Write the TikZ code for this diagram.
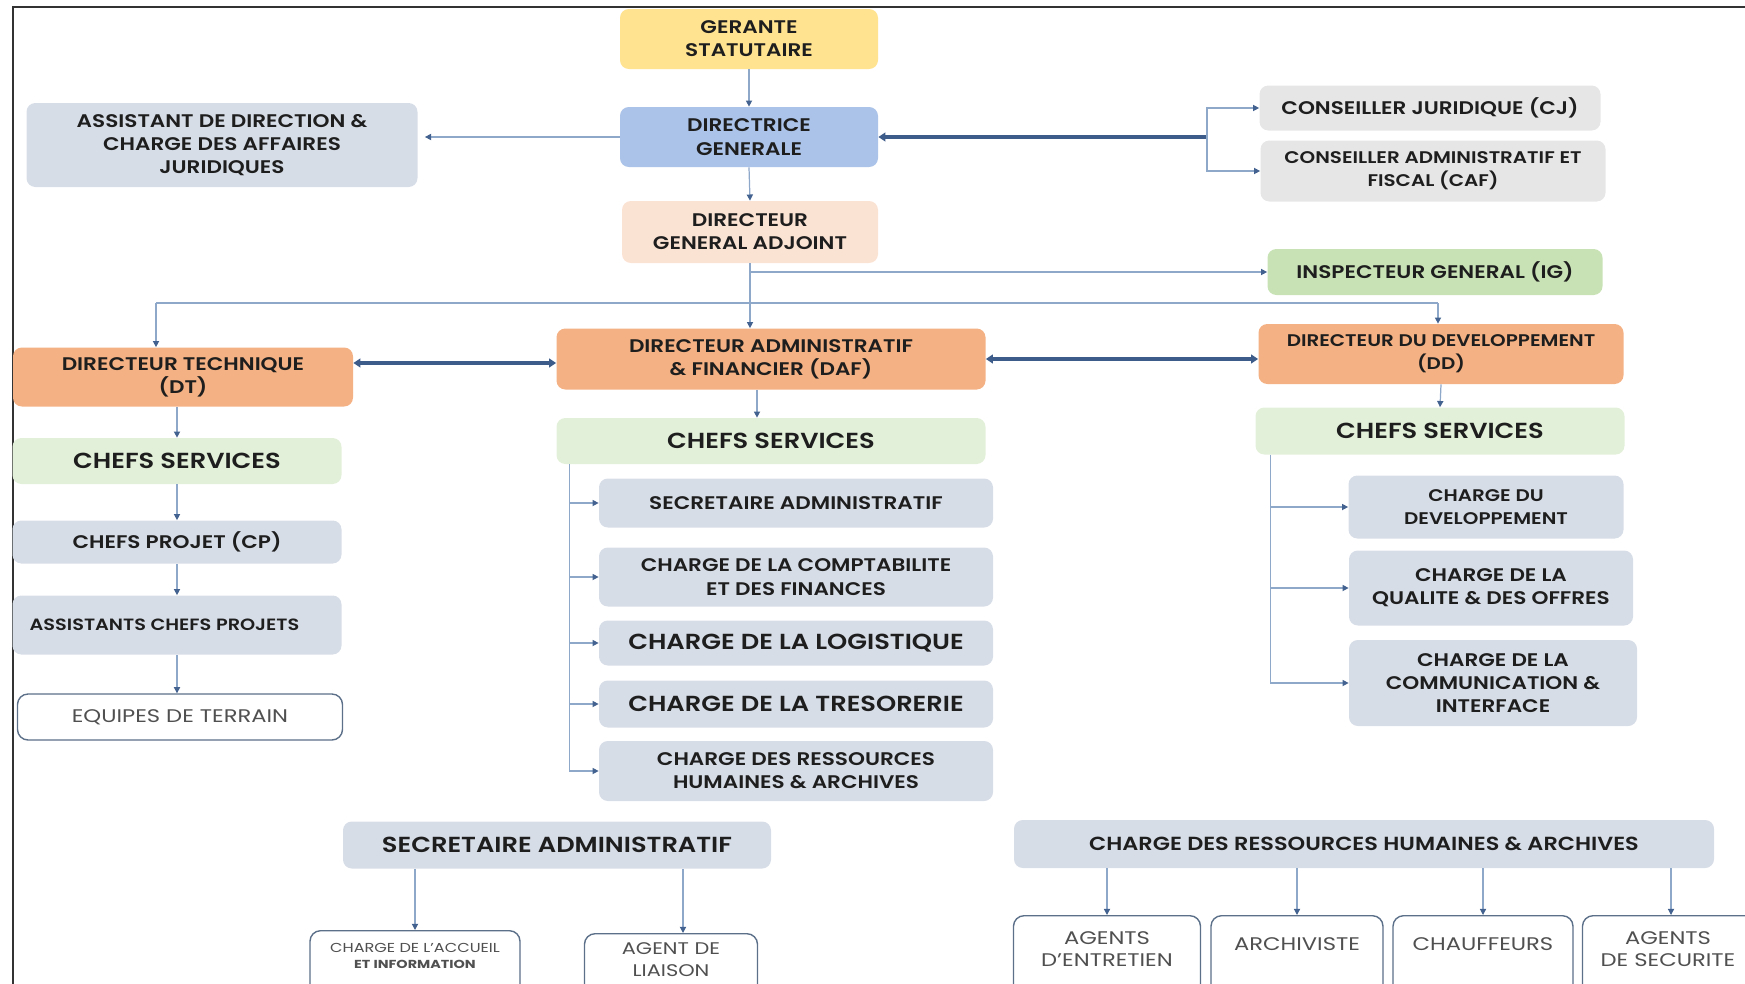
\documentclass[tikz,border=0pt]{standalone}
\usepackage{fontspec}
\setmainfont{Poppins}[FakeStretch=1.18, BoldFont={Poppins SemiBold}]
\newfontfamily\widereg{Poppins}[FakeStretch=1.24]
\usetikzlibrary{arrows.meta}
\definecolor{gold}{HTML}{FFE391}
\definecolor{dgblue}{HTML}{ABC3E8}
\definecolor{peach}{HTML}{FBE3D4}
\definecolor{slate}{HTML}{D7DDE7}
\definecolor{lgray}{HTML}{E6E6E6}
\definecolor{igreen}{HTML}{C8E2B6}
\definecolor{orange}{HTML}{F4B183}
\definecolor{lgreen}{HTML}{E2F0D9}
\definecolor{lineblue}{HTML}{8EA8C9}
\definecolor{arrowblue}{HTML}{44628F}
\definecolor{thickblue}{HTML}{3E5C8A}
\definecolor{wborder}{HTML}{5C7089}
\definecolor{txt}{HTML}{1E1E1E}
\definecolor{wtext}{HTML}{505050}
\definecolor{framec}{HTML}{333333}
\begin{document}
\begin{tikzpicture}[x=0.02cm,y=-0.02cm,
  wh/.style 2 args={minimum width=#1*0.02cm, minimum height=#2*0.02cm},
  box/.style={rounded corners=5pt, align=center, inner sep=1pt, fill=#1, text=txt,
    font=\bfseries\fontsize{10.4}{13.2}\selectfont},
  big/.style={font=\bfseries\fontsize{12.4}{14}\selectfont},
  narrow/.style={font=\bfseries\fontsize{9.6}{13.2}\selectfont},
  wbox/.style={draw=wborder, line width=0.8pt, rounded corners=6pt, fill=white, anchor=north},
  wtxt/.style={align=center, text=wtext, inner sep=0pt, font=\widereg\fontsize{10.4}{12.5}\selectfont},
  ln/.style={draw=lineblue, line width=0.7pt},
  arr/.style={ln, -{Triangle[length=3.5pt,width=3.5pt,color=arrowblue]}},
  thk/.style={draw=thickblue, line width=1.8pt},
  dbl/.style={thk, {Triangle[length=4pt,width=5pt]}-{Triangle[length=4pt,width=5pt]}},
]
\useasboundingbox (0,0) rectangle (1745,984);
\clip (0,0) rectangle (1745,984);
\draw[framec, line width=1.2pt] (13,990) -- (13,7) -- (1750,7);

% top column
\node[box=gold, wh={258}{60}] (ger) at (749,39) {GERANTE\\STATUTAIRE};
\node[box=dgblue, wh={258}{60}] (dg) at (749,137) {DIRECTRICE\\GENERALE};
\node[box=slate, wh={391}{84}] (asst) at (222,145) {ASSISTANT DE DIRECTION \&\\CHARGE DES AFFAIRES\\JURIDIQUES};
\node[box=peach, wh={256}{62}] (dga) at (750,232) {DIRECTEUR\\GENERAL ADJOINT};
\node[box=lgray, wh={341}{45}] (cj) at (1430,108) {CONSEILLER JURIDIQUE (CJ)};
\node[box=lgray, narrow, wh={345}{61}] (caf) at (1433,171) {CONSEILLER ADMINISTRATIF ET\\FISCAL (CAF)};
\node[box=igreen, wh={335}{46}] (ig) at (1435,272) {INSPECTEUR GENERAL (IG)};

% directors
\node[box=orange, wh={340}{59}] (dt) at (183,377) {DIRECTEUR TECHNIQUE\\(DT)};
\node[box=orange, wh={429}{61}] (daf) at (771,359) {DIRECTEUR ADMINISTRATIF\\\& FINANCIER (DAF)};
\node[box=orange, narrow, wh={365}{60}] (dd) at (1441,354) {DIRECTEUR DU DEVELOPPEMENT\\(DD)};

% chefs services
\node[box=lgreen, big, wh={329}{46}] (cs1) at (177,461) {CHEFS SERVICES};
\node[box=lgreen, big, wh={429}{46}] (cs2) at (771,441) {CHEFS SERVICES};
\node[box=lgreen, big, wh={369}{47}] (cs3) at (1440,431) {CHEFS SERVICES};

% left column
\node[box=slate, wh={329}{43}] (cp) at (177,542) {CHEFS PROJET (CP)};
\node[box=slate, wh={329}{59}, font=\bfseries\fontsize{9.3}{11}\selectfont] (acp) at (177,625) {\hspace*{-0.5cm}ASSISTANTS CHEFS PROJETS};
\node[wbox, wh={325}{46}, anchor=center, wtxt] (eq) at (180,717) {EQUIPES DE TERRAIN};

% middle column
\node[box=slate, wh={394}{49}] (sa) at (796,503) {SECRETAIRE ADMINISTRATIF};
\node[box=slate, wh={394}{59}] (comp) at (796,577) {CHARGE DE LA COMPTABILITE\\ET DES FINANCES};
\node[box=slate, big, wh={394}{45}] (log) at (796,643) {CHARGE DE LA LOGISTIQUE};
\node[box=slate, big, wh={394}{47}] (tres) at (796,704) {CHARGE DE LA TRESORERIE};
\node[box=slate, wh={394}{60}] (rh) at (796,771) {CHARGE DES RESSOURCES\\HUMAINES \& ARCHIVES};

% right column
\node[box=slate, narrow, wh={275}{63}] (cdev) at (1486,507) {CHARGE DU\\DEVELOPPEMENT};
\node[box=slate, wh={284}{75}] (qual) at (1491,588) {CHARGE DE LA\\QUALITE \& DES OFFRES};
\node[box=slate, wh={288}{86}] (comm) at (1493,683) {CHARGE DE LA\\COMMUNICATION \&\\INTERFACE};

% bottom
\node[box=slate, big, wh={428}{47}] (sa2) at (557,845) {SECRETAIRE ADMINISTRATIF};
\node[box=slate, wh={700}{48}, font=\bfseries\fontsize{10.8}{13}\selectfont] (rh2) at (1364,844) {CHARGE DES RESSOURCES HUMAINES \& ARCHIVES};

\node[wbox, wh={210}{100}] (acc) at (415,930) {};
\node[wbox, wh={173}{100}] (lia) at (671,933) {};
\node[wbox, wh={187}{100}] (ent) at (1107,915) {};
\node[wbox, wh={172}{100}] (arc) at (1297,915) {};
\node[wbox, wh={180}{100}] (cha) at (1483,915) {};
\node[wbox, wh={177}{100}] (sec) at (1671,915) {};
\node[wtxt, font=\widereg\fontsize{7.4}{9}\selectfont] (accT) at (415,956) {CHARGE DE L’ACCUEIL\\{\bfseries\fontsize{6.6}{9}\selectfont ET INFORMATION}};
\node[wtxt, font=\widereg\fontsize{9.6}{12.5}\selectfont] (liaT) at (671,960) {AGENT DE\\LIAISON};
\node[wtxt] (entT) at (1107,949) {AGENTS\\D’ENTRETIEN};
\node[wtxt] (arcT) at (1297,944) {ARCHIVISTE};
\node[wtxt] (chaT) at (1483,944) {CHAUFFEURS};
\node[wtxt] (secT) at (1668,949) {AGENTS\\DE SECURITE};

% connectors
\draw[arr] (ger.south) -- (dg.north);
\draw[arr, shorten >=4pt] (dg.west) -- (dg.west -| asst.east);
\draw[arr] (dg.south) -- (dga.north);
\coordinate (br) at (1207,137);
\draw[thk, -{Triangle[length=4pt,width=5pt]}] (br) -- (dg.east);
\draw[arr] (br) |- (cj.west);
\draw[arr] (br) |- (caf.west);
\coordinate (tr) at (dga.south |- ig.west);
\draw[arr] (dga.south) -- (dga.south |- daf.north);
\draw[arr] (tr) -- (ig.west);
\coordinate (jl) at (156,303);
\coordinate (jr) at (1438,303);
\draw[ln] (jl) -- (jr);
\draw[arr] (jl) -- (jl |- dt.north);
\draw[arr] (jr) -- (jr |- dd.north);
\draw[dbl] ([yshift=-0.08cm]dt.east |- daf.west) -- ([yshift=-0.08cm]daf.west);
\draw[dbl] (daf.east) -- (daf.east -| dd.west);

\draw[arr] (dt.south -| cs1.north) -- (cs1.north);
\draw[arr] (cs1.south) -- (cp.north);
\draw[arr] (cp.south) -- (acp.north);
\draw[arr] (acp.south) -- (acp.south |- eq.north);

\draw[arr] ([xshift=-0.28cm]daf.south) -- ([xshift=-0.28cm]cs2.north);
\coordinate (mb) at ([xshift=0.26cm]cs2.south west);
\draw[arr] (mb) |- (sa.west);
\draw[arr] (mb) |- (comp.west);
\draw[arr] (mb) |- (log.west);
\draw[arr] (mb) |- (tres.west);
\draw[arr] (mb) |- (rh.west);

\draw[arr] (dd.south) -- (cs3.north);
\coordinate (rb) at ([xshift=0.3cm]cs3.south west);
\draw[arr] (rb) |- (cdev.west);
\draw[arr] (rb) |- (qual.west);
\draw[arr] (rb) |- (comm.west);

\draw[arr] (sa2.south -| acc.north) -- (acc.north);
\draw[arr] ([xshift=0.24cm]sa2.south -| lia.north) -- ([xshift=0.24cm]lia.north);
\draw[arr] (rh2.south -| ent.north) -- (ent.north);
\draw[arr] (rh2.south -| arc.north) -- (arc.north);
\draw[arr] (rh2.south -| cha.north) -- (cha.north);
\draw[arr] (rh2.south -| sec.north) -- (sec.north);
\end{tikzpicture}
\end{document}
